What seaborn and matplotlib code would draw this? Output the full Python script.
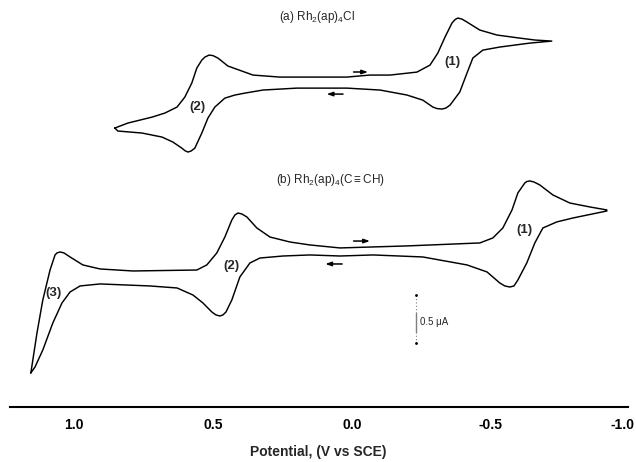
import matplotlib
matplotlib.use("Agg")
import matplotlib.pyplot as plt
import matplotlib.transforms as mtransforms
import seaborn as sns
import pandas as pd

# ---- data (potential in V vs SCE, current in uA relative to each trace's own baseline)
a_potential = [0.853, 0.806, 0.719, 0.673, 0.629, 0.601, 0.576, 0.558, 0.540, 0.529, 0.514, 0.500, 0.482, 0.446,
               0.396, 0.356, 0.259, 0.018, -0.065, -0.137, -0.234, -0.281, -0.309, -0.335, -0.360,
               -0.371, -0.381, -0.396, -0.414, -0.460, -0.522, -0.604, -0.658, -0.719,
               -0.640, -0.532, -0.471, -0.435, -0.414, -0.388, -0.353, -0.338, -0.324, -0.306, -0.291, -0.255,
               -0.198, -0.101, 0.018, 0.198, 0.320, 0.385, 0.421, 0.457, 0.493, 0.518, 0.540,
               0.565, 0.579, 0.590, 0.601, 0.612, 0.644, 0.683, 0.755, 0.842, 0.853]
a_current = [-0.479, -0.427, -0.365, -0.323, -0.260, -0.156, -0.010, 0.146, 0.229, 0.260, 0.281, 0.276, 0.250, 0.167,
             0.115, 0.073, 0.052, 0.052, 0.073, 0.073, 0.104, 0.177, 0.302, 0.469, 0.615,
             0.651, 0.667, 0.656, 0.625, 0.542, 0.490, 0.458, 0.438, 0.427,
             0.406, 0.365, 0.333, 0.250, 0.094, -0.104, -0.240, -0.271, -0.281, -0.276, -0.260, -0.188,
             -0.135, -0.083, -0.063, -0.063, -0.083, -0.115, -0.135, -0.167, -0.260, -0.375, -0.531,
             -0.688, -0.719, -0.729, -0.714, -0.688, -0.625, -0.573, -0.531, -0.510, -0.479]

b_potential = [1.155, 1.133, 1.112, 1.086, 1.068, 1.061, 1.050, 1.036, 1.014, 0.968, 0.906, 0.788, 0.558, 0.522,
               0.486, 0.457, 0.432, 0.421, 0.410, 0.396, 0.378, 0.342, 0.295, 0.223, 0.151, 0.043, -0.198,
               -0.460, -0.507, -0.543, -0.576, -0.597, -0.622, -0.629, -0.640, -0.655, -0.676, -0.723, -0.784,
               -0.856, -0.917,
               -0.917, -0.795, -0.737, -0.687, -0.658, -0.629, -0.597, -0.583, -0.568, -0.550, -0.532, -0.486,
               -0.414, -0.255, -0.076, 0.043, 0.151, 0.248, 0.331, 0.367, 0.403, 0.432, 0.453,
               0.464, 0.475, 0.489, 0.504, 0.536, 0.572, 0.629, 0.727, 0.906, 0.978, 1.014, 1.043, 1.076,
               1.112, 1.140, 1.155]
b_current = [-1.260, -0.844, -0.500, -0.188, -0.031, -0.010, 0.000, -0.010, -0.052, -0.135, -0.177, -0.198, -0.188, -0.135,
             -0.010, 0.156, 0.333, 0.385, 0.406, 0.396, 0.365, 0.250, 0.156, 0.104, 0.073, 0.042, 0.063,
             0.094, 0.146, 0.250, 0.438, 0.615, 0.719, 0.734, 0.740, 0.729, 0.698, 0.594, 0.510,
             0.469, 0.438,
             0.427, 0.354, 0.313, 0.250, 0.094, -0.115, -0.292, -0.354, -0.365, -0.354, -0.323, -0.208,
             -0.135, -0.052, -0.031, -0.042, -0.031, -0.042, -0.063, -0.115, -0.260, -0.500, -0.625,
             -0.656, -0.667, -0.656, -0.625, -0.531, -0.448, -0.375, -0.354, -0.333, -0.354, -0.417, -0.531, -0.740,
             -1.021, -1.198, -1.260]

tick_values = [1.0, 0.5, 0.0, -0.5, -1.0]
tick_labels = ["1.0", "0.5", "0.0", "-0.5", "-1.0"]
minor_ticks = [1.2, 1.1, 0.9, 0.8, 0.7, 0.6, 0.4, 0.3, 0.2, 0.1, -0.1, -0.2, -0.3, -0.4,
               -0.6, -0.7, -0.8, -0.9]
scale_bar_uA = 0.5

# ---- layout
sns.set_style("white")
plt.rcParams["font.family"] = ["Liberation Sans", "DejaVu Sans"]
plt.rcParams["mathtext.fontset"] = "custom"
plt.rcParams["mathtext.rm"] = "Liberation Sans"
plt.rcParams["mathtext.it"] = "Liberation Sans:italic"

fig = plt.figure(figsize=(6.36, 4.62), dpi=100)
ax = fig.add_axes([0, 55 / 462, 1, 407 / 462])

offset_a = 3.385
offset_b = 1.615

df_a = pd.DataFrame({"E": a_potential, "I": [v + offset_a for v in a_current]})
df_b = pd.DataFrame({"E": b_potential, "I": [v + offset_b for v in b_current]})

sns.lineplot(data=df_a, x="E", y="I", sort=False, estimator=None, color="black", lw=1.05, ax=ax)
sns.lineplot(data=df_b, x="E", y="I", sort=False, estimator=None, color="black", lw=1.05, ax=ax)

ax.set_xlim(1.266, -1.022)
ax.set_ylim(0, 4.240)

for s in ["left", "right", "top"]:
    ax.spines[s].set_visible(False)
ax.spines["bottom"].set_bounds(1.23, -0.995)
ax.spines["bottom"].set_linewidth(1.5)
ax.spines["bottom"].set_color("black")

ax.set_yticks([])
ax.set_xticks(tick_values)
ax.set_xticklabels(tick_labels, fontweight="bold", fontsize=10)
ax.set_xticks(minor_ticks, minor=True)
ax.tick_params(axis="x", which="major", direction="in", length=4, width=0.9, pad=8, colors="black")
ax.tick_params(axis="x", which="minor", direction="in", length=2.5, width=0.7)
ax.set_xlabel("Potential, (V vs SCE)", fontweight="bold", fontsize=10, labelpad=9)
ax.set_ylabel("")

# keep the last tick label inside the picture
for lbl in ax.get_xticklabels():
    if lbl.get_text() == "-1.0":
        lbl.set_transform(lbl.get_transform() + mtransforms.ScaledTranslation(-5 / 72, 0, fig.dpi_scale_trans))

# titles
ax.text(0.125, 4.06, r"(a) Rh$_2$(ap)$_4$Cl", fontsize=8.5, ha="center", va="center")
ax.text(0.076, 2.365, r"(b) Rh$_2$(ap)$_4$(C$\equiv$CH)", fontsize=8.5, ha="center", va="center")

# peak labels
lab = dict(fontsize=9.5, fontweight="bold", ha="center", va="center")
ax.text(-0.363, 3.59, "(1)", **lab)
ax.text(0.554, 3.125, "(2)", **lab)
ax.text(-0.619, 1.844, "(1)", **lab)
ax.text(0.435, 1.469, "(2)", **lab)
ax.text(1.072, 1.1875, "(3)", **lab)

# scan-direction arrows (top: toward negative potential, bottom: back toward positive)
arr = dict(arrowstyle="-|>,head_length=0.35,head_width=0.12", color="black", lw=1.1)
ax.annotate("", xy=(-0.068, 3.49), xytext=(0.004, 3.49), arrowprops=arr)
ax.annotate("", xy=(0.101, 3.26), xytext=(0.022, 3.26), arrowprops=arr)
ax.annotate("", xy=(-0.075, 1.729), xytext=(0.004, 1.729), arrowprops=arr)
ax.annotate("", xy=(0.106, 1.49), xytext=(0.025, 1.49), arrowprops=arr)

# current scale bar
ax.plot([-0.230, -0.230], [0.667, 0.667 + scale_bar_uA], color="gray", lw=0.8, ls=(0, (1, 2)))
ax.plot([-0.230, -0.230], [0.78, 0.98], color="gray", lw=1.0)
ax.plot([-0.230, -0.230], [0.667, 0.667 + scale_bar_uA], "k.", ms=2)
ax.text(-0.245, 0.885, "0.5 \u03bcA", fontsize=7, ha="left", va="center")

fig.savefig("out.png", dpi=100)
